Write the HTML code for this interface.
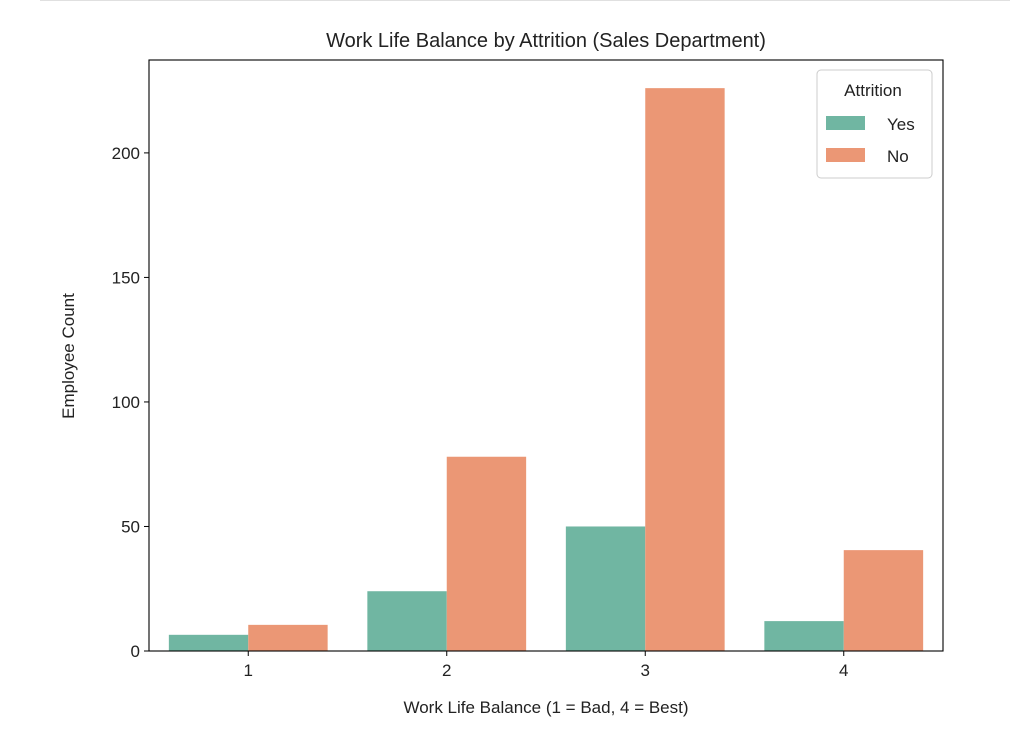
<!DOCTYPE html>
<html><head><meta charset="utf-8"><style>
body{margin:0;background:#fff;width:1010px;height:736px;overflow:hidden;font-family:"Liberation Sans","DejaVu Sans",sans-serif;}
</style></head><body>
<div style="position:absolute;left:40px;top:0;width:970px;height:1px;background:#e0e0e0"></div>
<svg id="c" width="1010" height="736" style="position:absolute;left:0;top:0"></svg>
<script>
const categories=["1","2","3","4"];
const yesValues=[6.5,24,50,12];
const noValues=[10.5,78,226,40.5];
const yTicks=[0,50,100,150,200];
const seriesNames=["Yes","No"];
const colors=["#70b6a2","#eb9775"];
const L=149,R=943,T=60,B=651,yMax=237.3;
const NS="http://www.w3.org/2000/svg";
const svg=document.getElementById('c');
function y(v){return B-(v/yMax)*(B-T);}
function xc(i){return L+(i+0.5)*(R-L)/categories.length;}
const bw=(R-L)/categories.length*0.8/2;
function el(t,a,txt){const e=document.createElementNS(NS,t);for(const k in a)e.setAttribute(k,a[k]);if(txt!==undefined)e.textContent=txt;svg.appendChild(e);return e;}
[yesValues,noValues].forEach((vals,s)=>{vals.forEach((v,i)=>{
 const x0=xc(i)-bw+s*bw;
 const r=el('rect',{x:x0,y:y(v),width:bw,height:B-y(v),fill:colors[s]});
 
 
});});
const frame=el('rect',{x:L,y:T,width:R-L,height:B-T,fill:'none',stroke:'#000','stroke-width':1.1});


yTicks.forEach(t=>{
 const l=el('line',{x1:L-5,x2:L,y1:y(t),y2:y(t),stroke:'#000'});
 
 
 const tx=el('text',{x:L-9,y:y(t)+6,'text-anchor':'end','font-size':17,fill:'#222'},t);
 
 
});
categories.forEach((c,i)=>{
 const l=el('line',{x1:xc(i),x2:xc(i),y1:B,y2:B+5,stroke:'#000'});
 
 
 const tx=el('text',{x:xc(i),y:B+25,'text-anchor':'middle','font-size':17,fill:'#222'},c);
 
 
});
const title=el('text',{x:(L+R)/2,y:47,'text-anchor':'middle','font-size':20,fill:'#222'},'Work Life Balance by Attrition (Sales Department)');


const xt=el('text',{x:(L+R)/2,y:713,'text-anchor':'middle','font-size':17,fill:'#222'},'Work Life Balance (1 = Bad, 4 = Best)');


const yt=el('text',{x:0,y:0,'text-anchor':'middle','font-size':17,fill:'#222',transform:'translate(74,356) rotate(-90)'},'Employee Count');


const lg=el('rect',{x:817,y:70,width:115,height:108,rx:4,fill:'#fff','fill-opacity':0.8,stroke:'#ccc'});


const lt=el('text',{x:873,y:96,'text-anchor':'middle','font-size':17,fill:'#222'},'Attrition');


seriesNames.forEach((n,s)=>{
 const r=el('rect',{x:826,y:116+s*32,width:39,height:14,fill:colors[s]});
 
 
 const t=el('text',{x:887,y:130+s*32,'font-size':17,fill:'#222'},n);
 
 
});
</script>
</body></html>
